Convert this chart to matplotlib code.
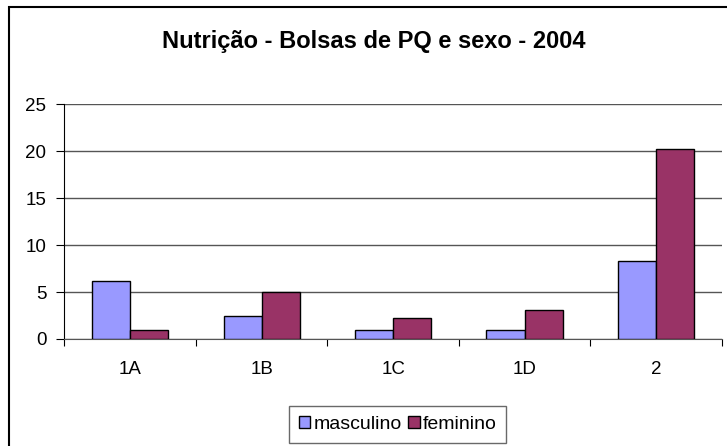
import numpy as np
import matplotlib.pyplot as plt
from matplotlib.patches import Rectangle

plt.rcParams['font.family'] = ['Liberation Sans', 'DejaVu Sans']

categorias = ['1A', '1B', '1C', '1D', '2']
masculino = [6.2, 2.4, 1.0, 1.0, 8.3]
feminino = [1.0, 5.0, 2.2, 3.1, 20.2]

fig = plt.figure(figsize=(7.27, 4.46), dpi=100)
ax = fig.add_axes((0.0887, 0.240, 0.904, 0.526))

x = np.arange(len(categorias))
w = 0.29
ax.bar(x - w/2, masculino, w, color='#9999FF', edgecolor='black', lw=1, label='masculino', zorder=3)
ax.bar(x + w/2, feminino, w, color='#993366', edgecolor='black', lw=1, label='feminino', zorder=3)

ax.set_xlim(-0.5, len(categorias) - 0.5)
ax.set_ylim(0, 25)
ax.set_yticks(range(0, 26, 5))
ax.yaxis.grid(True, color='#555555', lw=1, zorder=0)
ax.set_xticks(np.arange(-0.5, len(categorias), 1.0))
ax.set_xticklabels([])
ax.set_xticks(x, minor=True)
ax.set_xticklabels(categorias, minor=True)
ax.tick_params(axis='x', which='major', direction='out', length=5, color='black')
ax.tick_params(axis='x', which='minor', length=0, pad=16, labelsize=13.5)
ax.tick_params(axis='y', direction='out', length=6, pad=7, labelsize=13.5)
for s in ('top', 'right'):
    ax.spines[s].set_visible(False)
ax.spines['left'].set_color('black')
ax.spines['bottom'].set_color('#555555')

fig.text(0.514, 0.908, 'Nutrição - Bolsas de PQ e sexo - 2004', ha='center', va='center',
         fontsize=17, fontweight='bold')

leg = ax.legend(loc='center', bbox_to_anchor=(0.507, -0.365), ncol=2, frameon=True, fancybox=False,
                fontsize=14, handlelength=0.6, handleheight=0.6, handletextpad=0.15,
                columnspacing=0.35, borderpad=0.5, borderaxespad=0)
leg.get_frame().set_edgecolor('#444444')
leg.get_frame().set_linewidth(1)

# chart border (cut at right/bottom)
fig.patches.append(Rectangle((9/727, -0.1), 1.2, 1 - 7/446 + 0.1, transform=fig.transFigure,
                             fill=False, edgecolor='black', lw=1.5, clip_on=False))

plt.savefig('out.png', dpi=100)
